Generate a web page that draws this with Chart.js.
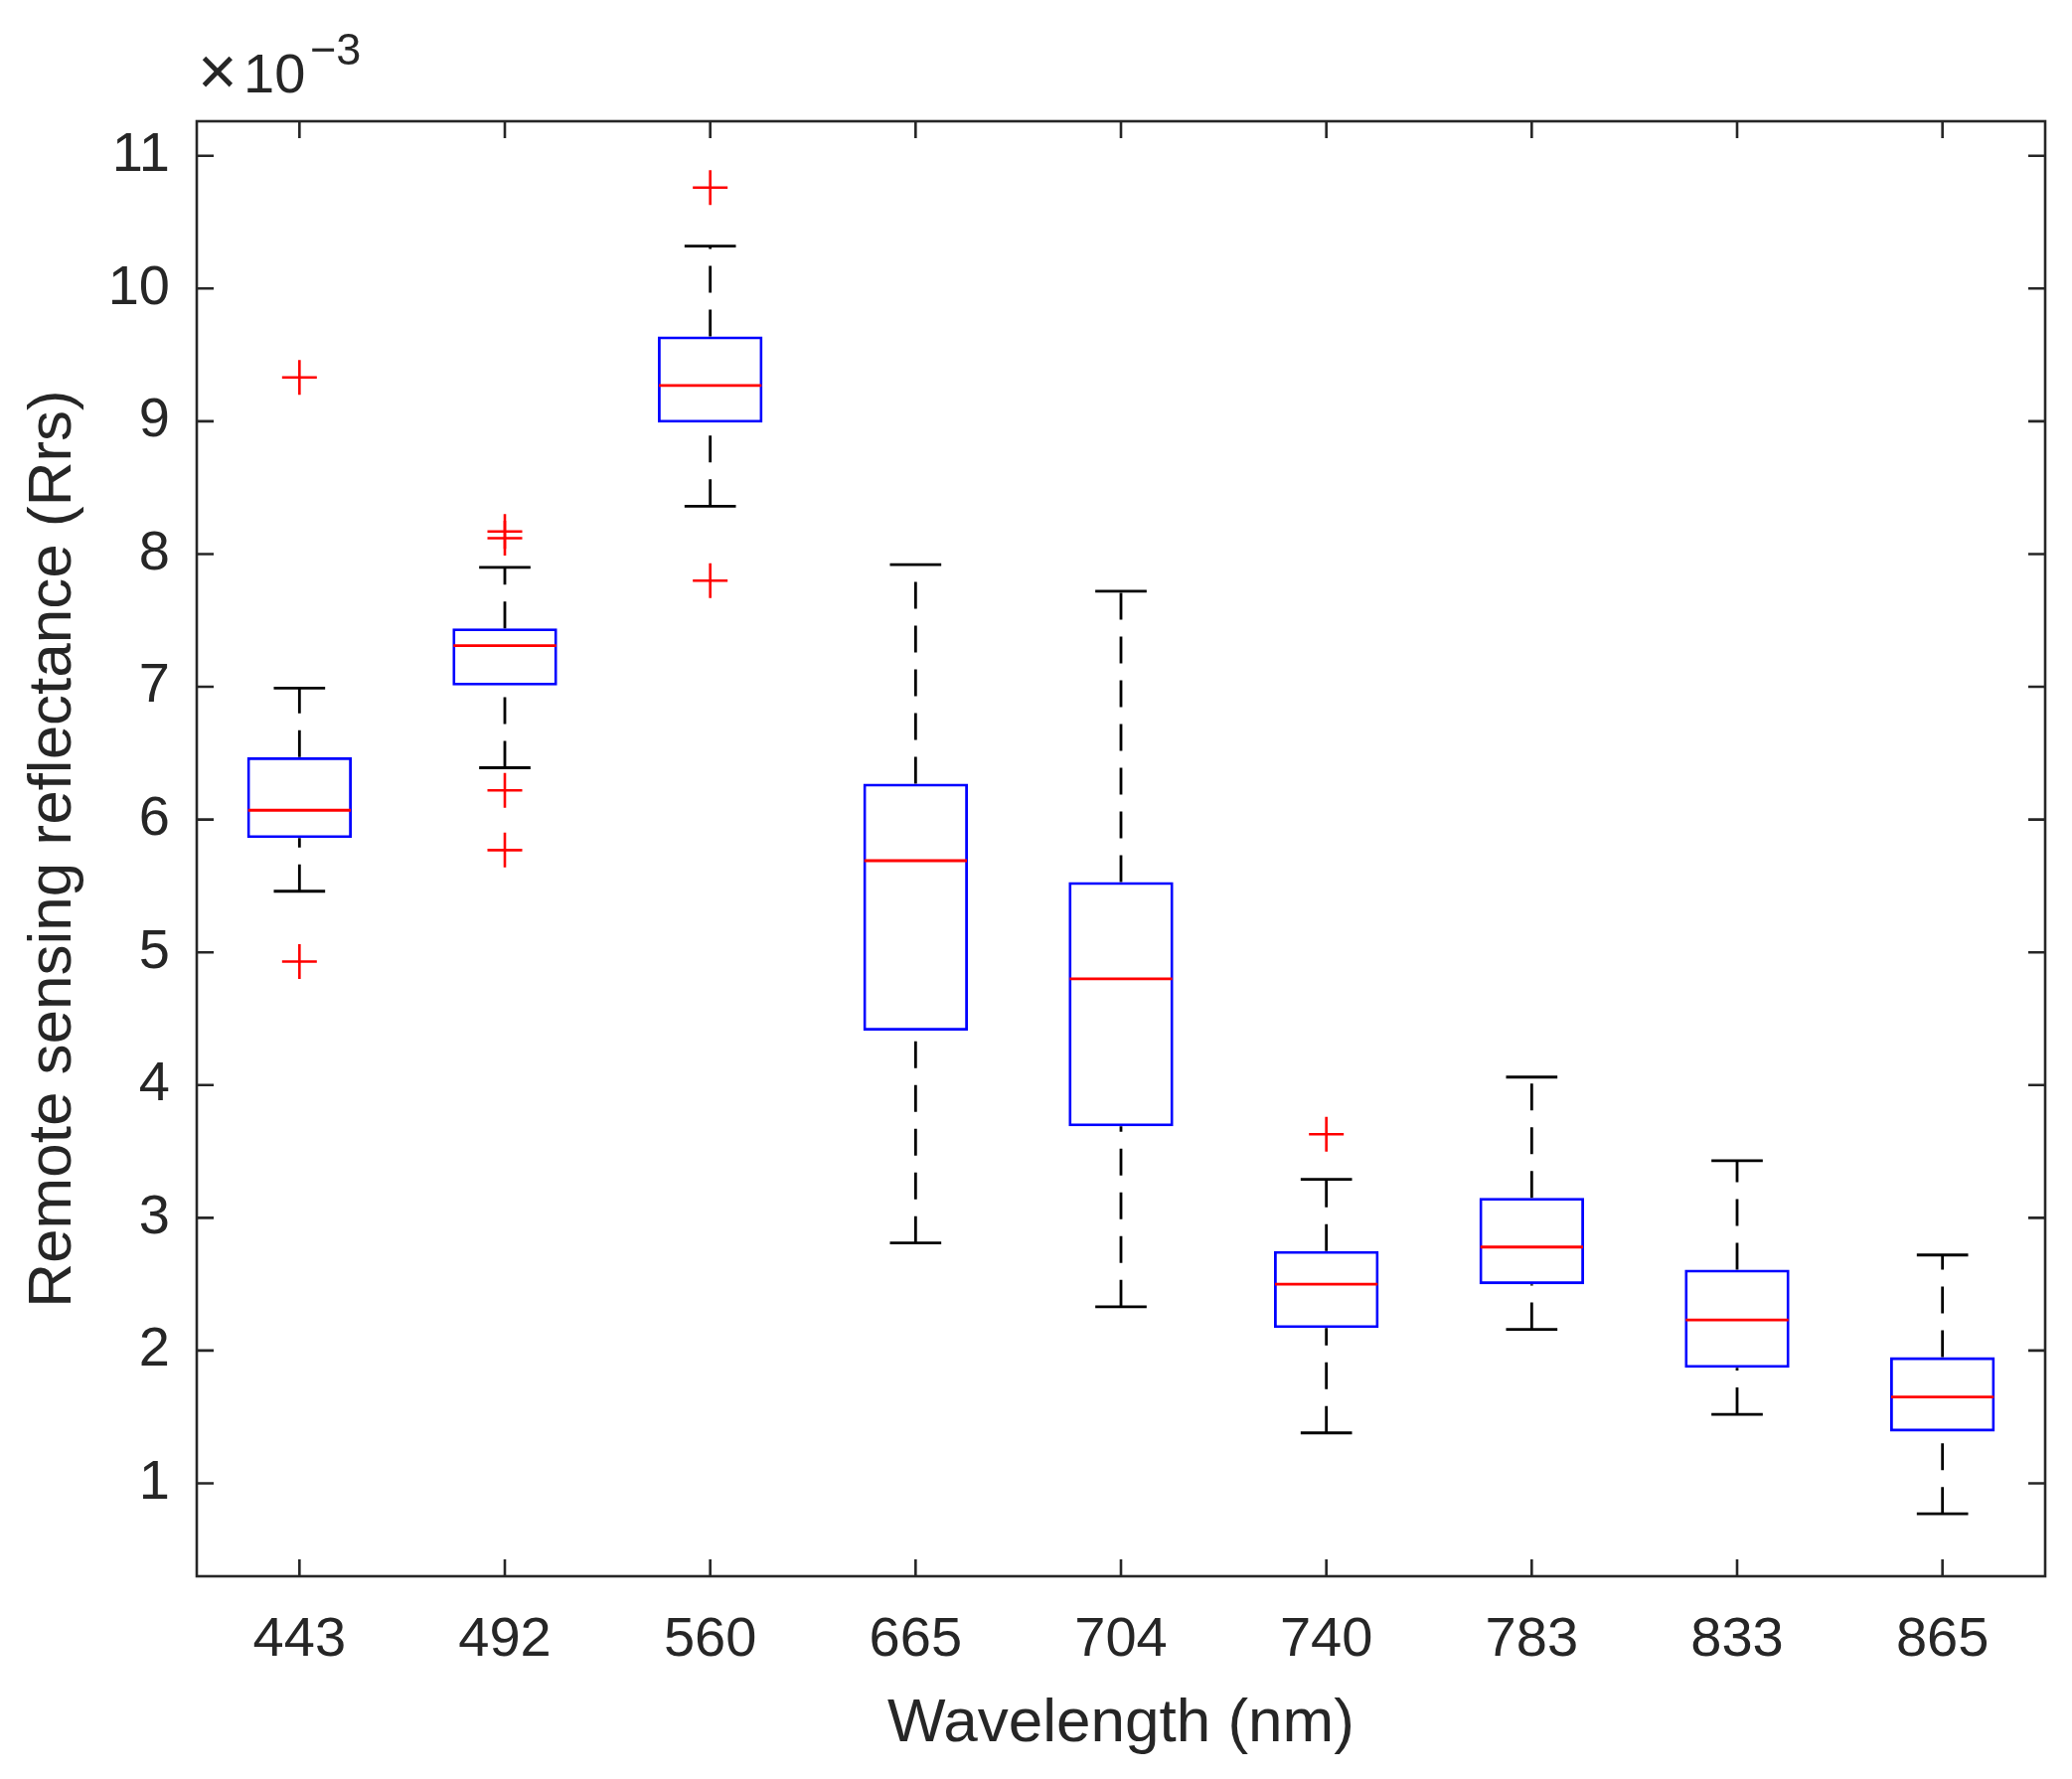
<!DOCTYPE html>
<html>
<head>
<meta charset="utf-8">
<script src="https://cdn.jsdelivr.net/npm/chart.js@4.4.1/dist/chart.umd.min.js"></script>
<style>
  html, body { margin: 0; padding: 0; background: #ffffff; }
  #wrap { width: 2085px; height: 1790px; }
</style>
</head>
<body>
<div id="wrap"><canvas id="c" width="2085" height="1790"></canvas></div>
<script>
// ---- data (values in units of 1e-3) ----
const categories   = ['443', '492', '560', '665', '704', '740', '783', '833', '865'];
const whiskerLow   = [5.46, 6.39, 8.36, 2.81, 2.33, 1.38, 2.16, 1.52, 0.77];
const q1           = [5.86, 7.01, 8.99, 4.41, 3.69, 2.17, 2.50, 1.87, 1.39];
const medians      = [6.07, 7.31, 9.27, 5.69, 4.80, 2.50, 2.78, 2.23, 1.65];
const q3           = [6.47, 7.44, 9.64, 6.27, 5.53, 2.75, 3.15, 2.61, 1.95];
const whiskerHigh  = [6.99, 7.90, 10.32, 7.92, 7.72, 3.29, 4.06, 3.43, 2.72];
const outlierCategory = ['443', '443', '492', '492', '492', '492', '560', '560', '740'];
const outlierValue    = [9.33, 4.93, 8.17, 8.12, 6.22, 5.77, 10.76, 7.80, 3.63];
const yTicks = [1, 2, 3, 4, 5, 6, 7, 8, 9, 10, 11];
const yMin = 0.30, yMax = 11.26;
const xTitle = 'Wavelength (nm)';
const yTitle = 'Remote sensing reflectance (Rrs)';

const FONT = '"Liberation Sans", Helvetica, Arial, sans-serif';
const AXIS = '#262626';

const boxPlugin = {
  id: 'boxParts',
  afterDatasetsDraw(chart) {
    const ctx = chart.ctx;
    const x = chart.scales.x, y = chart.scales.y;
    const cw = x.getPixelForValue(1) - x.getPixelForValue(0);
    ctx.save();
    ctx.lineCap = 'butt';
    categories.forEach((c, i) => {
      const px = x.getPixelForValue(i);
      // whiskers (dashed), drawn from lower value toward higher value
      ctx.strokeStyle = '#000000';
      ctx.lineWidth = 2.8;
      ctx.setLineDash([27, 17]);
      ctx.beginPath();
      ctx.moveTo(px, y.getPixelForValue(q3[i]));
      ctx.lineTo(px, y.getPixelForValue(whiskerHigh[i]));
      ctx.stroke();
      ctx.beginPath();
      ctx.moveTo(px, y.getPixelForValue(whiskerLow[i]));
      ctx.lineTo(px, y.getPixelForValue(q1[i]));
      ctx.stroke();
      ctx.setLineDash([]);
      // caps
      const hw = cw * 0.125;
      [whiskerLow[i], whiskerHigh[i]].forEach(v => {
        const py = y.getPixelForValue(v);
        ctx.beginPath();
        ctx.moveTo(px - hw, py);
        ctx.lineTo(px + hw, py);
        ctx.stroke();
      });
      // median
      ctx.strokeStyle = '#ff0000';
      ctx.lineWidth = 2.8;
      const bw = cw * 0.25;
      const pm = y.getPixelForValue(medians[i]);
      ctx.beginPath();
      ctx.moveTo(px - bw, pm);
      ctx.lineTo(px + bw, pm);
      ctx.stroke();
    });
    ctx.restore();
  }
};

const framePlugin = {
  id: 'matlabFrame',
  afterDraw(chart) {
    const ctx = chart.ctx;
    const {left, right, top, bottom} = chart.chartArea;
    const x = chart.scales.x, y = chart.scales.y;
    const tl = 17;
    ctx.save();
    ctx.strokeStyle = AXIS;
    ctx.lineWidth = 2.6;
    ctx.setLineDash([]);
    ctx.strokeRect(left, top, right - left, bottom - top);
    ctx.beginPath();
    yTicks.forEach(v => {
      const py = y.getPixelForValue(v);
      ctx.moveTo(left, py); ctx.lineTo(left + tl, py);
      ctx.moveTo(right, py); ctx.lineTo(right - tl, py);
    });
    categories.forEach((c, i) => {
      const px = x.getPixelForValue(i);
      ctx.moveTo(px, bottom); ctx.lineTo(px, bottom - tl);
      ctx.moveTo(px, top); ctx.lineTo(px, top + tl);
    });
    ctx.stroke();
    // exponent label
    ctx.fillStyle = AXIS;
    ctx.textBaseline = 'alphabetic';
    ctx.textAlign = 'left';
    ctx.font = '68px ' + FONT;
    ctx.fillText('\u00d7', left + 1, 95);
    ctx.font = '56px ' + FONT;
    ctx.fillText('10', left + 47, 93);
    ctx.font = '45px ' + FONT;
    ctx.fillText('\u22123', left + 114, 65);
    ctx.restore();
  }
};

new Chart(document.getElementById('c'), {
  type: 'bar',
  data: {
    labels: categories,
    datasets: [
      {
        label: 'box',
        data: q1.map((v, i) => [v, q3[i]]),
        backgroundColor: 'rgba(0,0,0,0)',
        borderColor: '#0000ff',
        borderWidth: 2.8,
        borderSkipped: false,
        barPercentage: 0.51,
        categoryPercentage: 1.0,
        order: 2
      },
      {
        type: 'line',
        label: 'outliers',
        data: outlierCategory.map((c, i) => ({x: c, y: outlierValue[i]})),
        showLine: false,
        pointStyle: 'cross',
        pointRadius: 17.5,
        pointBorderWidth: 2.6,
        pointBorderColor: '#ff0000',
        pointBackgroundColor: '#ff0000',
        borderColor: '#ff0000',
        order: 1
      }
    ]
  },
  options: {
    responsive: false,
    devicePixelRatio: 1,
    animation: false,
    layout: { padding: { left: 0, right: 27, top: 122, bottom: 0 } },
    plugins: { legend: { display: false }, tooltip: { enabled: false } },
    scales: {
      x: {
        type: 'category',
        offset: true,
        grid: { display: false, drawTicks: false },
        border: { display: false },
        ticks: { color: AXIS, font: { family: FONT, size: 56 }, padding: 31, maxRotation: 0, autoSkip: false },
        title: { display: true, text: xTitle, color: AXIS, font: { family: FONT, size: 62 }, padding: { top: 0, bottom: 18 } },
        afterFit(s) { s.height = 204; }
      },
      y: {
        type: 'linear',
        min: yMin,
        max: yMax,
        grid: { display: false, drawTicks: false },
        border: { display: false },
        ticks: { color: AXIS, font: { family: FONT, size: 56 }, padding: 27 },
        afterBuildTicks(s) { s.ticks = yTicks.map(v => ({value: v})); },
        title: { display: true, text: yTitle, color: AXIS, font: { family: FONT, size: 62 }, padding: { top: 17, bottom: 0 } },
        afterFit(s) { s.width = 198; }
      }
    }
  },
  plugins: [boxPlugin, framePlugin]
});
</script>
</body>
</html>
